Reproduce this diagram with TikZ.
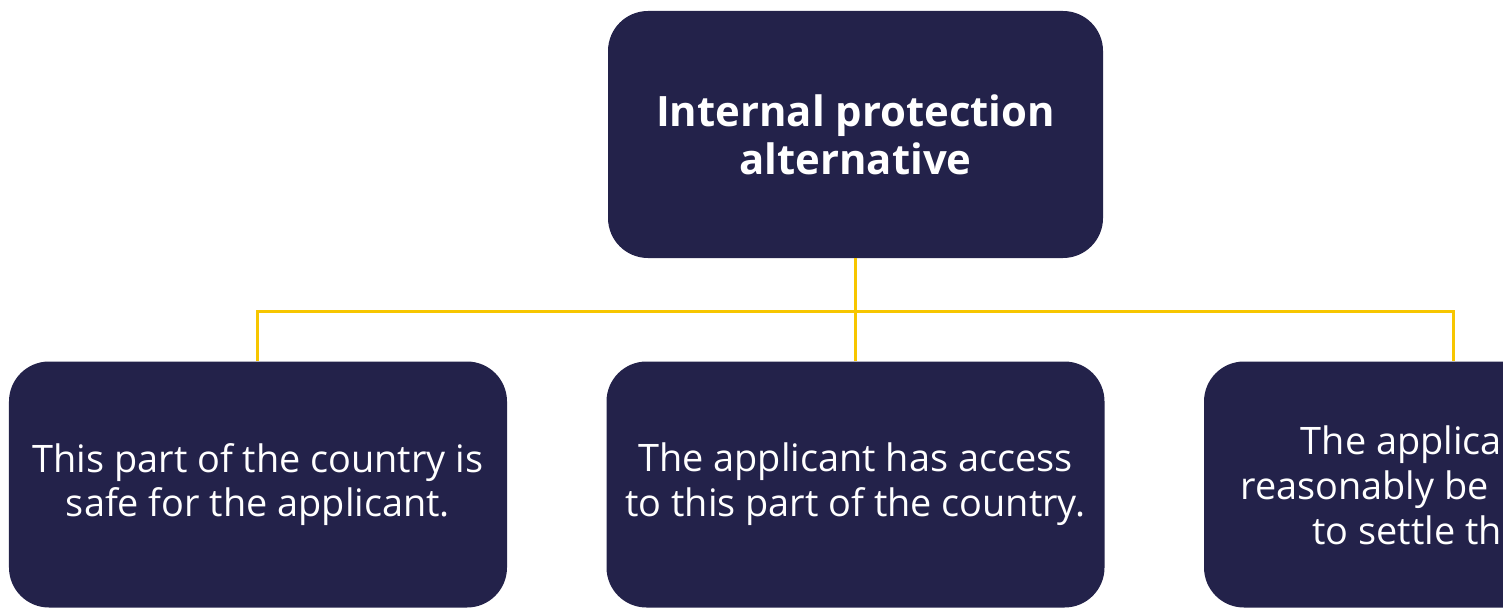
\documentclass[tikz,border=0pt]{standalone}
\usepackage{fontspec}
\setmainfont{Open Sans}
\usepackage{xcolor}
\usepackage{tikz}

\definecolor{ipanavy}{HTML}{23224A}
\definecolor{ipagold}{HTML}{F7C600}

\begin{document}
\begin{tikzpicture}[
  x = 1bp, y = 1bp,
  box/.style = {fill = ipanavy, text = white, rounded corners = 40bp,
    minimum height = 246bp, inner sep = 0pt, align = center},
  headbox/.style = {box, minimum width = 495bp, minimum height = 247bp,
    font = \fontsize{42}{48}\selectfont\bfseries},
  leafbox/.style = {box, minimum width = 498bp,
    font = \fontsize{38}{45}\selectfont},
  level distance = 350bp,
  sibling distance = 597.5bp,
  edge from parent/.style = {draw = ipagold, line width = 3bp},
  edge from parent path = {(\tikzparentnode.south) -- ++(0,-53) -| (\tikzchildnode.north)}
  ]
  \useasboundingbox (0,0) rectangle (1503,-609);
  \clip (0,0) rectangle (1503,-609);
  \node[headbox] (ipa) at (855.5,-134.5) {Internal protection\\alternative}
  child {node[leafbox] (safe) {This part of the country is\\safe for the applicant.}}
  child {node[leafbox] (access) {The applicant has access\\to this part of the country.}}
  child {node[leafbox] (settle) {}};
  % the right box runs off the page
  \node[leafbox, fill = none, minimum width = 0pt, minimum height = 0pt,
    anchor = east, align = right] (settletext) at (1502,-485)
    {The applica\\reasonably be\hspace{13bp}\mbox{}\\to settle th};
\end{tikzpicture}
\end{document}
